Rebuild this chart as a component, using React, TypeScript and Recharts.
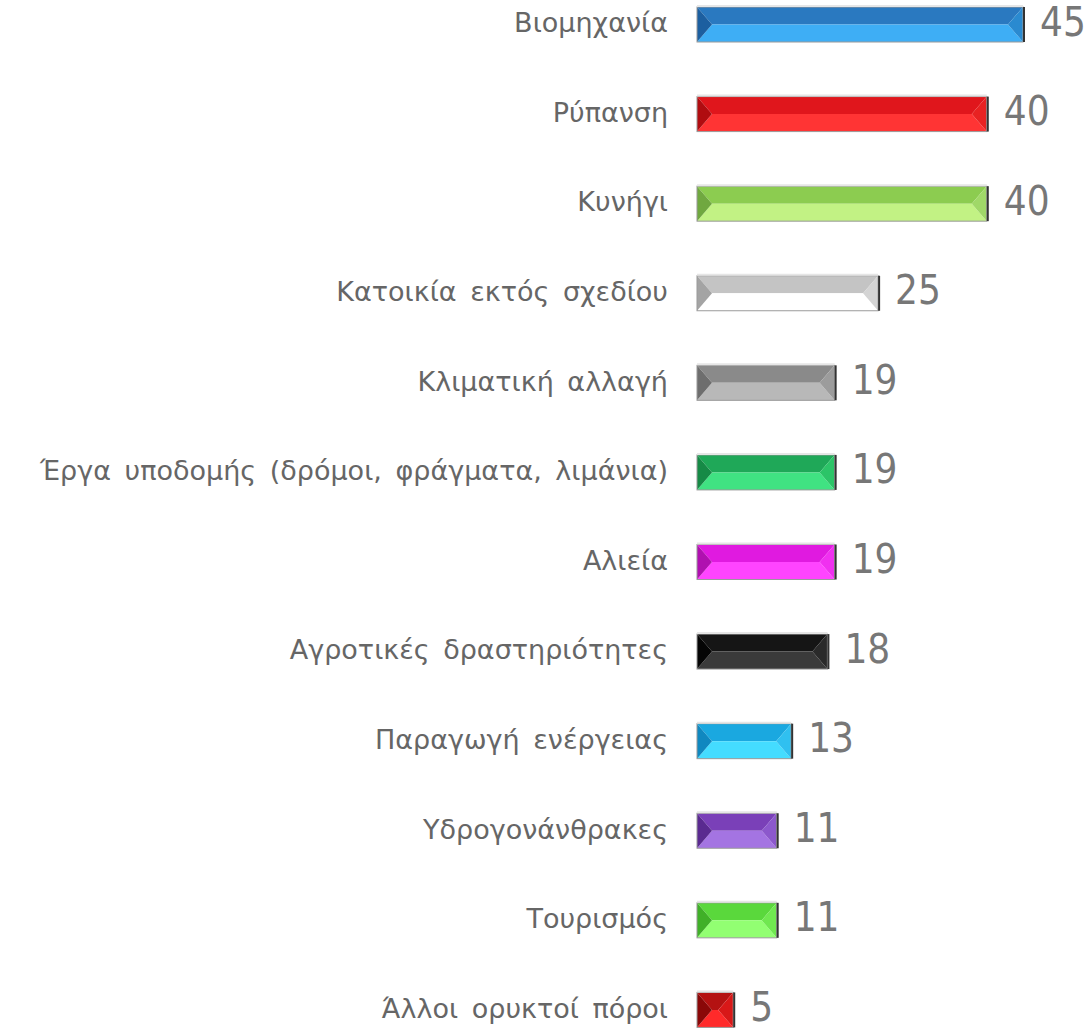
import { BarChart, Bar, XAxis, YAxis, LabelList, Cell } from 'recharts';

const CATEGORIES = [
  'Βιομηχανία',
  'Ρύπανση',
  'Κυνήγι',
  'Κατοικία εκτός σχεδίου',
  'Κλιματική αλλαγή',
  'Έργα υποδομής (δρόμοι, φράγματα, λιμάνια)',
  'Αλιεία',
  'Αγροτικές δραστηριότητες',
  'Παραγωγή ενέργειας',
  'Υδρογονάνθρακες',
  'Τουρισμός',
  'Άλλοι ορυκτοί πόροι',
];

const VALUES = [45, 40, 40, 25, 19, 19, 19, 18, 13, 11, 11, 5];

// top face, bottom face, left face, right face
const SHADES = [
  ['#2a79c0', '#3eaef5', '#1c5fa0', '#2a8ad0'],
  ['#e0161c', '#ff3434', '#b00c10', '#e82222'],
  ['#8ccc50', '#c2f284', '#70a840', '#a0d868'],
  ['#c4c4c4', '#ffffff', '#a4a4a4', '#d4d4d4'],
  ['#8a8a8a', '#b8b8b8', '#6e6e6e', '#9c9c9c'],
  ['#1fa858', '#40e282', '#168a46', '#2cc468'],
  ['#e01ae0', '#ff44ff', '#b010b0', '#f030f0'],
  ['#151515', '#3a3a3a', '#050505', '#2a2a2a'],
  ['#1aa8e0', '#44dcff', '#1088c0', '#30c0f0'],
  ['#7a40b8', '#a474e2', '#5a2a90', '#8c58cc'],
  ['#5ad83c', '#92ff72', '#40b028', '#70e850'],
  ['#b41212', '#ff2a2a', '#8a0808', '#d81818'],
];

const data = CATEGORIES.map((name, i) => ({ name, value: VALUES[i], idx: i }));

function BevelBar(props: any) {
  const { x, y, width, height, payload } = props;
  const s = SHADES[payload.idx];
  const b = Math.min(15, width / 2, height / 2);
  const my = y + height / 2;
  const r = x + width;
  const btm = y + height;
  return (
    <g>
      <polygon points={`${x},${y} ${r},${y} ${r - b},${my} ${x + b},${my}`} fill={s[0]} />
      <polygon points={`${x},${btm} ${r},${btm} ${r - b},${my} ${x + b},${my}`} fill={s[1]} />
      <polygon points={`${x},${y} ${x + b},${my} ${x},${btm}`} fill={s[2]} />
      <polygon points={`${r},${y} ${r - b},${my} ${r},${btm}`} fill={s[3]} />
      <rect x={x} y={y} width={width} height={height} fill="none" stroke="#9a9a9a" strokeWidth={1} />
      <line x1={x} y1={y - 1} x2={r} y2={y - 1} stroke="#e6e6e6" strokeWidth={2} />
      <line x1={r + 1} y1={y} x2={r + 1} y2={btm} stroke="#333" strokeWidth={2} />
    </g>
  );
}

function CatTick(props: any) {
  const { x, y, payload } = props;
  return (
    <text
      x={x - 27}
      y={y}
      dy={-2}
      textAnchor="end"
      dominantBaseline="central"
      fill="#666"
      fontSize={27}
      fontFamily="DejaVu Sans, sans-serif"
      wordSpacing={5}
    >
      {payload.value}
    </text>
  );
}

function ValueLabel(props: any) {
  const { x, y, width, height, value } = props;
  return (
    <text
      x={x + width + 17}
      y={y + height / 2}
      dy={-3}
      dominantBaseline="central"
      fill="#777"
      fontSize={40}
      fontFamily="'Liberation Sans Narrow', 'DejaVu Sans Condensed', sans-serif"
    >
      {value}
    </text>
  );
}

export default function App() {
  return (
    <div style={{ position: 'absolute', left: 0, top: -20, width: 1089, height: 1075, background: '#fff' }}>
      <BarChart
        width={1089}
        height={1075}
        data={data}
        layout="vertical"
        margin={{ top: 0, right: 66, bottom: 0, left: 0 }}
        barSize={35}
      >
        <XAxis type="number" domain={[0, 45]} hide />
        <YAxis
          type="category"
          dataKey="name"
          width={697}
          axisLine={false}
          tickLine={false}
          tickSize={0}
          tick={CatTick}
          interval={0}
        />
        <Bar dataKey="value" isAnimationActive={false} shape={BevelBar}>
          {data.map((d) => (
            <Cell key={d.name} />
          ))}
          <LabelList dataKey="value" content={ValueLabel} />
        </Bar>
      </BarChart>
    </div>
  );
}
